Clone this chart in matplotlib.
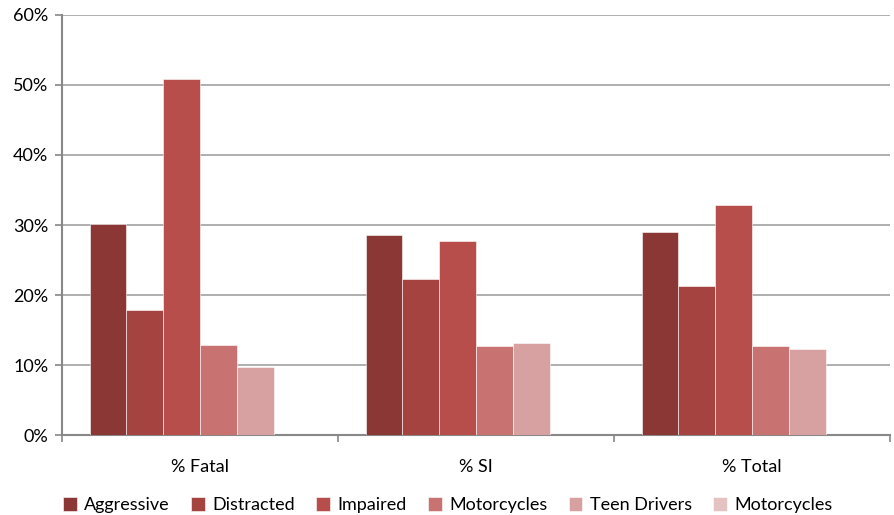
import matplotlib.pyplot as plt
import numpy as np
from matplotlib.ticker import FuncFormatter

plt.rcParams['font.family'] = ['Lato', 'DejaVu Sans']

# data
categories = ['% Fatal', '% SI', '% Total']
series = ['Aggressive', 'Distracted', 'Impaired', 'Motorcycles', 'Teen Drivers', 'Motorcycles']
values = [
    [30.2, 28.6, 29.0],   # Aggressive
    [17.8, 22.3, 21.3],   # Distracted
    [50.8, 27.7, 32.8],   # Impaired
    [12.8, 12.7, 12.7],   # Motorcycles
    [9.7, 13.1, 12.3],    # Teen Drivers
    [0.0, 0.0, 0.0],      # Motorcycles (no bars shown)
]
colors = ['#8B3735', '#A54341', '#B84E4B', '#C87371', '#D8A1A1', '#E4C2C2']

fig = plt.figure(figsize=(8.94, 5.15), dpi=100)
ax = fig.add_axes([0.0694, 0.1553, 0.9261, 0.8156])

x = np.arange(len(categories))
w = 1 / 7.5
for i, (name, vals, c) in enumerate(zip(series, values, colors)):
    ax.bar(x + (i - 2.5) * w, np.array(vals) / 100, w, color=c, label=name,
           edgecolor='white', linewidth=0.4, zorder=3)

ax.set_xlim(-0.5, 2.5)
ax.set_ylim(0, 0.6)
ax.set_yticks(np.arange(0, 0.61, 0.1))
ax.yaxis.set_major_formatter(FuncFormatter(lambda v, p: f'{v*100:.0f}%'))
ax.grid(axis='y', color='#9a9a9a', linewidth=1.1, zorder=0)

ax.set_xticks(x)
ax.set_xticklabels(categories)
ax.set_xticks([-0.5, 0.5, 1.5, 2.5], minor=True)
ax.tick_params(axis='x', which='major', length=0, pad=17, labelsize=13)
ax.tick_params(axis='x', which='minor', length=5, width=1.2, color='#888888', direction='out')
ax.tick_params(axis='y', length=5, width=1.2, color='#888888', labelsize=13, pad=5)

for s in ['top', 'right']:
    ax.spines[s].set_visible(False)
for s in ['left', 'bottom']:
    ax.spines[s].set_color('#888888')
    ax.spines[s].set_linewidth(1.5)

ax.legend(loc='lower center', bbox_to_anchor=(0.466, -0.225), ncol=6, frameon=False,
          fontsize=13, handlelength=0.75, handleheight=0.75, handletextpad=0.4,
          columnspacing=1.2)

fig.savefig('out.png', dpi=100)
